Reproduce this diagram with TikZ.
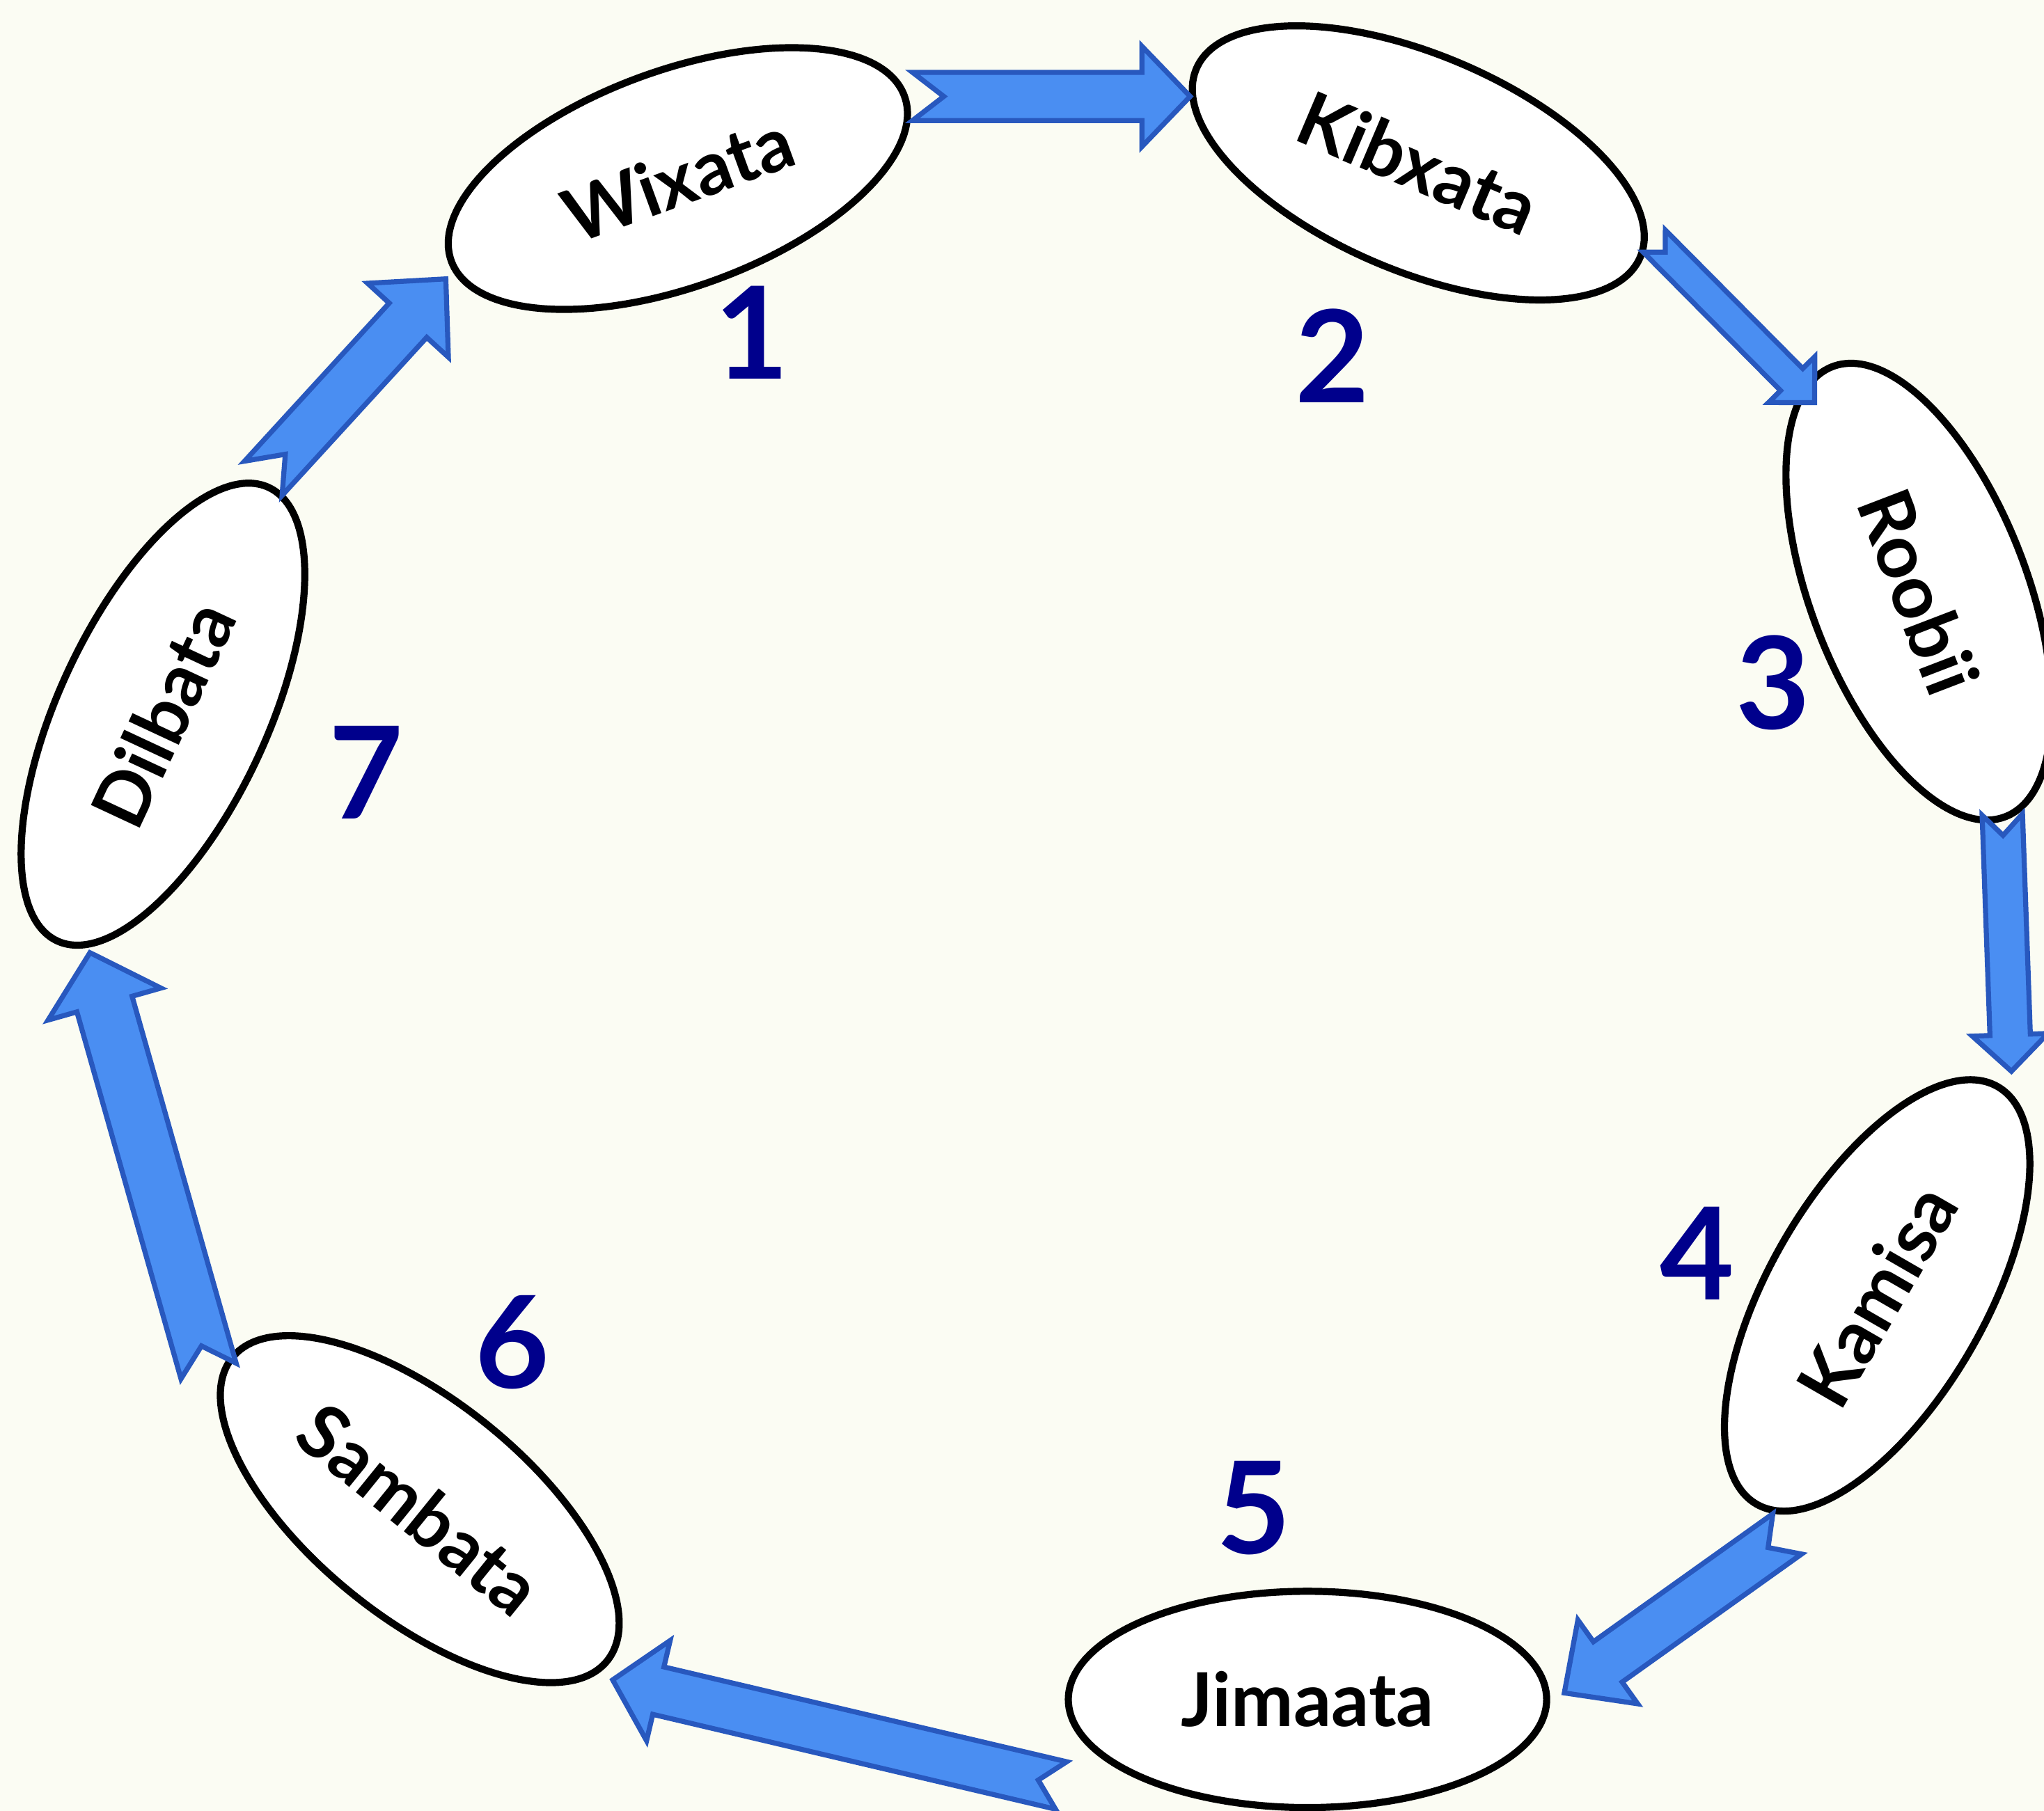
\documentclass[tikz,border=0pt]{standalone}
\usepackage{fontspec}
\setmainfont{Lato}
\usetikzlibrary{shapes.geometric,calc}
\definecolor{bgcol}{HTML}{FBFCF3}
\definecolor{arrowfill}{HTML}{4A8EF2}
\definecolor{arrowline}{HTML}{2858BE}
\definecolor{numcol}{HTML}{00008C}
\tikzset{
  day/.style={ellipse, draw=black, line width=3.1pt, fill=white, inner sep=0pt,
    minimum width=7.4cm, minimum height=3.32cm,
    font=\fontsize{32.5}{38}\selectfont\bfseries},
  num/.style={text=numcol, inner sep=0pt, font=\fontsize{56}{64}\selectfont\bfseries},
  barrow/.style={fill=arrowfill, draw=arrowline, line width=2.2pt, line join=miter}
}
% start, end, shaft half width, head half width, head length, notch depth
\newcommand\blockarrow[6]{%
  \draw[barrow] ($(#1)!#3!90:(#2)$)
    -- ($(#2)!#5!(#1)!#3!-90:(#1)$)
    -- ($(#2)!#5!(#1)!#4!-90:(#1)$)
    -- (#2)
    -- ($(#2)!#5!(#1)!#4!90:(#1)$)
    -- ($(#2)!#5!(#1)!#3!90:(#1)$)
    -- ($(#1)!#3!-90:(#2)$)
    -- ($(#1)!#6!(#2)$)
    -- cycle;}
\begin{document}
\begin{tikzpicture}[x=0.02cm,y=-0.02cm]
\fill[bgcol] (0,0) rectangle (1568,1389.6);
\useasboundingbox (0,0) rectangle (1568,1389.6);

% days
\node[day, rotate=20] (w1) at (520,137) {Wixata};
\node[day, rotate=-23] (w2) at (1088,125) {Kibxata};
\node[day, rotate=-69] (w3) at (1472,454) {Roobii};
\node[day, rotate=60] (w4) at (1440,994) {Kamisa};
\node[day, rotate=0, minimum width=7.34cm] (w5) at (1003,1304) {Jimaata};
\node[day, rotate=-39] (w6) at (322,1158) {Sambata};
\node[day, rotate=65, minimum width=7.68cm, minimum height=3.2cm] (w7) at (125,548) {Dilbata};

% numbers
\node[num] (n1) at (577,255) {1};
\node[num] (n2) at (1022,273) {2};
\node[num] (n3) at (1360,524) {3};
\node[num] (n4) at (1302,962) {4};
\node[num] (n5) at (962,1157) {5};
\node[num] (n6) at (393,1030) {6};
\node[num] (n7) at (281,593) {7};

% arrow end points
\coordinate (a1s) at (700,74);   \coordinate (a1e) at (913,74);
\coordinate (a2s) at (1269,185); \coordinate (a2e) at (1392,309);
\coordinate (a3s) at (1536,625); \coordinate (a3e) at (1543,822);
\coordinate (a4s) at (1371,1177);\coordinate (a4e) at (1200,1299);
\coordinate (a5s) at (814,1370); \coordinate (a5e) at (470,1289);
\coordinate (a6s) at (160,1052); \coordinate (a6e) at (69,731);
\coordinate (a7s) at (202,367);  \coordinate (a7e) at (342,214);

\blockarrow{a1s}{a1e}{0.37cm}{0.77cm}{0.74cm}{0.48cm}
\blockarrow{a2s}{a2e}{0.24cm}{0.5cm}{0.5cm}{0.24cm}
\blockarrow{a3s}{a3e}{0.31cm}{0.58cm}{0.56cm}{0.32cm}
\blockarrow{a4s}{a4e}{0.38cm}{0.79cm}{0.82cm}{0.36cm}
\blockarrow{a5s}{a5e}{0.374cm}{0.79cm}{0.72cm}{0.36cm}
\blockarrow{a6s}{a6e}{0.44cm}{0.9cm}{0.82cm}{0.4cm}
\blockarrow{a7s}{a7e}{0.39cm}{0.84cm}{0.86cm}{0.5cm}
\end{tikzpicture}
\end{document}
